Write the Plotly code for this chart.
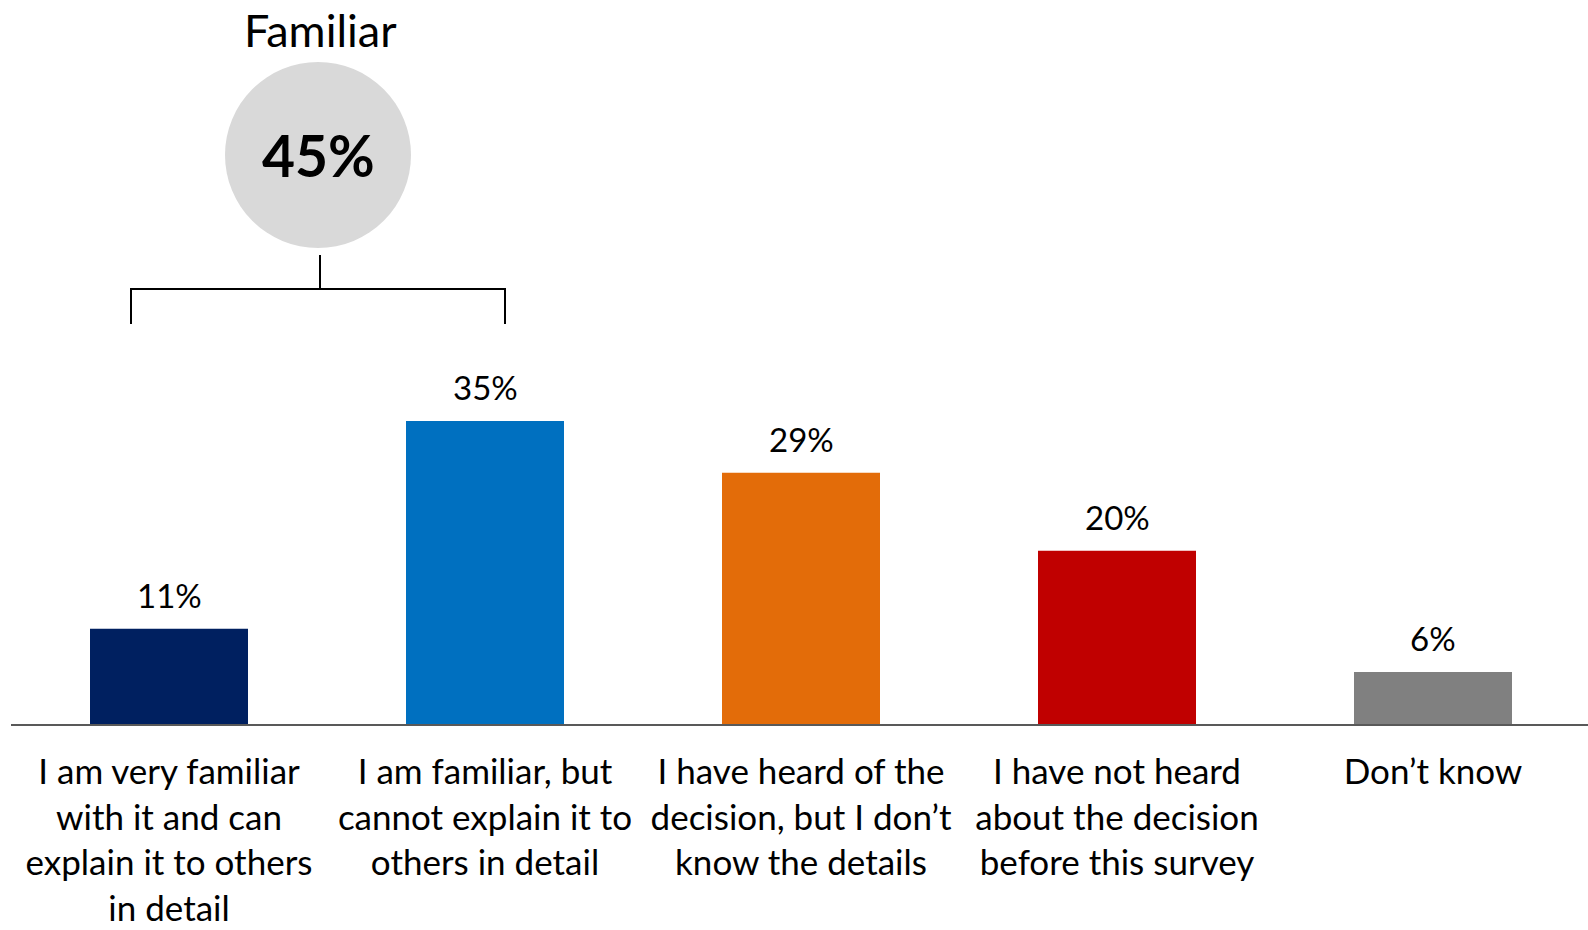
import plotly.graph_objects as go

categories = [
    "I am very familiar<br>with it and can<br>explain it to others<br>in detail",
    "I am familiar, but<br>cannot explain it to<br>others in detail",
    "I have heard of the<br>decision, but I don’t<br>know the details",
    "I have not heard<br>about the decision<br>before this survey",
    "Don’t know",
]
values = [11, 35, 29, 20, 6]
value_labels = ["11%", "35%", "29%", "20%", "6%"]
colors = ["#002060", "#0070C0", "#E36C09", "#C00000", "#808080"]
summary_title = "Familiar"
summary_value = "45%"

FONT = "Lato"
W_PX, H_PX = 1588, 930
L, R, T, B = 11, 0, 0, 206
plot_w = W_PX - L - R
plot_h = H_PX - T - B
cat_px = 316.0
y_max = plot_h / 8.66

def px(x):  # page x -> paper
    return (x - L) / plot_w

def py(y):  # page y -> paper
    return (H_PX - B - y) / plot_h

xs = list(range(len(categories)))

fig = go.Figure()
fig.add_trace(go.Bar(
    x=xs, y=values, marker=dict(color=colors, line=dict(width=0)),
    width=0.5, hoverinfo="skip",
))

annotations = []
for x, v, t in zip(xs, values, value_labels):
    annotations.append(dict(x=x, y=v, xref="x", yref="y", text=t, showarrow=False,
                            yanchor="bottom", yshift=12,
                            font=dict(family=FONT, size=33, color="#000000")))

# summary circle
cx, cy, r = 318, 155, 93
annotations.append(dict(x=px(cx), y=py(cy), xref="paper", yref="paper", text="<b>" + summary_value + "</b>",
                        showarrow=False, xanchor="center", yanchor="middle",
                        font=dict(family=FONT, size=57, color="#000000")))
annotations.append(dict(x=px(cx + 2), y=py(30), xref="paper", yref="paper", text=summary_title,
                        showarrow=False, xanchor="center", yanchor="middle",
                        font=dict(family=FONT, size=45, color="#000000")))

shapes = [
    dict(type="circle", xref="paper", yref="paper", x0=px(cx - r), x1=px(cx + r),
         y0=py(cy + r), y1=py(cy - r), fillcolor="#D9D9D9", line=dict(width=0), layer="above"),
    dict(type="line", xref="paper", yref="paper", x0=px(320), x1=px(320), y0=py(255), y1=py(289),
         line=dict(color="#000000", width=2)),
    dict(type="path", xref="paper", yref="paper",
         path=f"M {px(131)} {py(324)} L {px(131)} {py(289)} L {px(505)} {py(289)} L {px(505)} {py(324)}",
         line=dict(color="#000000", width=2)),
]

fig.update_layout(
    width=W_PX, height=H_PX,
    margin=dict(l=L, r=R, t=T, b=B, pad=0),
    paper_bgcolor="white", plot_bgcolor="white",
    showlegend=False,
    annotations=annotations, shapes=shapes,
    xaxis=dict(range=[-0.5, -0.5 + plot_w / cat_px], tickvals=xs, ticktext=categories,
               showline=True, linecolor="#595959", linewidth=2, showgrid=False, zeroline=False,
               ticks="", ticklabelstandoff=16,
               tickfont=dict(family=FONT, size=35, color="#000000"), fixedrange=True),
    yaxis=dict(range=[0, y_max], visible=False, showgrid=False, zeroline=False, fixedrange=True),
    bargap=0.5,
)

fig.write_html("out.html", config={"displayModeBar": False},
               post_script="document.body.style.margin='0';document.body.style.overflow='hidden';")
